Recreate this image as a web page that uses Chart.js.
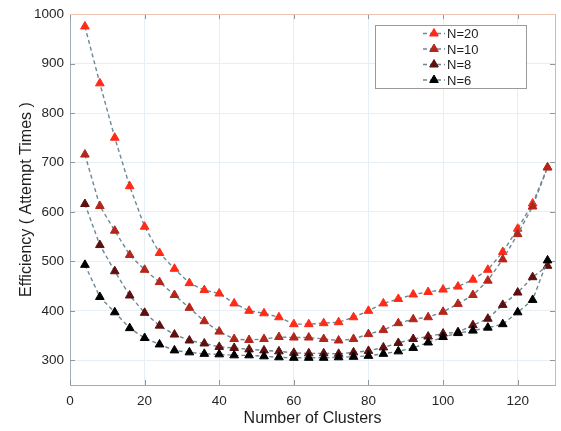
<!DOCTYPE html>
<html>
<head>
<meta charset="utf-8">
<script src="https://cdn.jsdelivr.net/npm/chart.js@4.4.1/dist/chart.umd.min.js"></script>
<style>
  html, body { margin: 0; padding: 0; background: #ffffff; }
  canvas { display: block; }
</style>
</head>
<body>
<canvas id="chart" width="561" height="431"></canvas>
<script>
// Number of clusters on the x axis
const clusters = [4, 8, 12, 16, 20, 24, 28, 32, 36, 40, 44, 48, 52, 56, 60, 64,
                  68, 72, 76, 80, 84, 88, 92, 96, 100, 104, 108, 112, 116, 120, 124, 128];

// Attempt times for each group size N
const effN20 = [975, 860, 750, 652, 570, 517, 485, 456, 442, 435, 415, 400, 395, 387, 373, 373,
                375, 377, 387, 400, 415, 424, 433, 438, 443, 449, 463, 483, 519, 566, 617, 690];
const effN10 = [716, 612, 562, 513, 483, 458, 432, 406, 379, 358, 343, 341, 343, 347, 346, 346,
                343, 340, 343, 353, 361, 375, 383, 387, 398, 414, 432, 461, 504, 555, 611, 690];
const effN8  = [616, 533, 480, 431, 396, 370, 352, 340, 334, 327, 325, 322, 320, 318, 315, 314,
                314, 313, 316, 319, 326, 335, 343, 348, 354, 357, 371, 384, 412, 437, 468, 491];
const effN6  = [493, 428, 397, 365, 345, 332, 320, 316, 313, 312, 310, 310, 308, 306, 305, 305,
                305, 306, 307, 309, 313, 318, 325, 336, 347, 355, 360, 366, 373, 397, 422, 502];

const seriesLabels = ['N=20', 'N=10', 'N=8', 'N=6'];
const seriesValues = [effN20, effN10, effN8, effN6];
const seriesColors = ['#ff2a18', '#b3261b', '#5e1010', '#000000'];

const xTicks = [0, 20, 40, 60, 80, 100, 120];
const yTicks = [300, 400, 500, 600, 700, 800, 900, 1000];

const FONT = '"Liberation Sans", Arial, Helvetica, sans-serif';
const LINE_COLOR = '#6c8893';
const LINE_DASH = [4, 3];

const datasets = seriesValues.map((vals, i) => ({
  label: seriesLabels[i],
  data: clusters.map((x, j) => ({ x: x, y: vals[j] })),
  borderColor: LINE_COLOR,
  borderWidth: 1.4,
  borderDash: LINE_DASH,
  pointStyle: 'triangle',
  pointRadius: 5,
  pointBackgroundColor: seriesColors[i],
  pointBorderColor: seriesColors[i],
  pointBorderWidth: 1,
  fill: false,
  tension: 0,
  order: seriesLabels.length - 1 - i
}));

// Frame on top/right edges plus short inward tick marks on all four sides
const framePlugin = {
  id: 'frame',
  beforeDatasetsDraw(chart) {
    const { ctx, chartArea: a, scales } = chart;
    ctx.save();
    ctx.lineWidth = 1;
    ctx.strokeStyle = '#8e979d';
    const len = 5;
    scales.x.ticks.forEach(t => {
      const px = Math.round(scales.x.getPixelForValue(t.value)) + 0.5;
      ctx.beginPath();
      ctx.moveTo(px, a.bottom); ctx.lineTo(px, a.bottom - len);
      ctx.moveTo(px, a.top); ctx.lineTo(px, a.top + len);
      ctx.stroke();
    });
    scales.y.ticks.forEach(t => {
      const py = Math.round(scales.y.getPixelForValue(t.value)) + 0.5;
      ctx.beginPath();
      ctx.moveTo(a.left, py); ctx.lineTo(a.left + len, py);
      ctx.moveTo(a.right, py); ctx.lineTo(a.right - len, py);
      ctx.stroke();
    });
    // top edge
    ctx.strokeStyle = '#f0c2b0';
    ctx.beginPath();
    ctx.moveTo(a.left, Math.round(a.top) + 0.5);
    ctx.lineTo(a.right, Math.round(a.top) + 0.5);
    ctx.stroke();
    // right edge
    ctx.strokeStyle = '#b9bfc3';
    ctx.beginPath();
    ctx.moveTo(Math.round(a.right) + 0.5, a.top);
    ctx.lineTo(Math.round(a.right) + 0.5, a.bottom);
    ctx.stroke();
    ctx.restore();
  }
};

// Boxed legend in the upper right of the plot
const boxLegendPlugin = {
  id: 'boxLegend',
  afterDraw(chart) {
    const { ctx } = chart;
    const bx = 375.5, by = 25.5, bw = 151, bh = 63;
    ctx.save();
    ctx.fillStyle = '#ffffff';
    ctx.fillRect(bx, by, bw, bh);
    ctx.strokeStyle = '#9a9a9a';
    ctx.lineWidth = 1;
    ctx.strokeRect(bx, by, bw, bh);
    chart.data.datasets.forEach((ds, i) => {
      const y = 33.5 + i * 15.5;
      ctx.strokeStyle = LINE_COLOR;
      ctx.lineWidth = 1.4;
      ctx.setLineDash(LINE_DASH);
      ctx.beginPath();
      ctx.moveTo(423, y);
      ctx.lineTo(445, y);
      ctx.stroke();
      ctx.setLineDash([]);
      ctx.fillStyle = ds.pointBackgroundColor;
      ctx.strokeStyle = ds.pointBorderColor;
      ctx.lineWidth = 1;
      Chart.helpers.drawPoint(ctx, {
        pointStyle: 'triangle', radius: 5, rotation: 0, borderWidth: 1
      }, 434, y);
      ctx.fillStyle = '#1e1e1e';
      ctx.font = '13px ' + FONT;
      ctx.textBaseline = 'middle';
      ctx.textAlign = 'left';
      ctx.fillText(ds.label, 447, y + 1);
    });
    ctx.restore();
  }
};

new Chart(document.getElementById('chart'), {
  type: 'line',
  data: { datasets: datasets },
  options: {
    responsive: false,
    animation: false,
    layout: { padding: { top: 5, right: 5, left: 0, bottom: 0 } },
    plugins: {
      legend: { display: false },
      tooltip: { enabled: false }
    },
    scales: {
      x: {
        type: 'linear',
        min: 0,
        max: 130,
        afterBuildTicks: s => { s.ticks = xTicks.map(v => ({ value: v })); },
        afterFit: s => { s.height = 46; },
        grid: { color: '#e8eff4', lineWidth: 1, drawTicks: false },
        border: { color: '#a3adb3', width: 1 },
        ticks: {
          padding: 8, color: '#262626', font: { family: FONT, size: 13.5 }, maxRotation: 0,
          callback: v => String(v)
        },
        title: {
          display: true,
          text: 'Number of Clusters',
          color: '#1e1e1e',
          font: { family: FONT, size: 16 },
          padding: { top: 0, bottom: 3 }
        }
      },
      y: {
        type: 'linear',
        min: 250,
        max: 1000,
        afterBuildTicks: s => { s.ticks = yTicks.map(v => ({ value: v })); },
        afterFit: s => { s.width = 70; },
        grid: { color: '#e8eff4', lineWidth: 1, drawTicks: false },
        border: { color: '#a3adb3', width: 1 },
        ticks: {
          padding: 6, color: '#262626', font: { family: FONT, size: 13.5 },
          callback: v => String(v)
        },
        title: {
          display: true,
          text: 'Efficiency ( Attempt Times )',
          color: '#1e1e1e',
          font: { family: FONT, size: 16 },
          padding: { top: 17, bottom: 0 }
        }
      }
    }
  },
  plugins: [framePlugin, boxLegendPlugin]
});
</script>
</body>
</html>
